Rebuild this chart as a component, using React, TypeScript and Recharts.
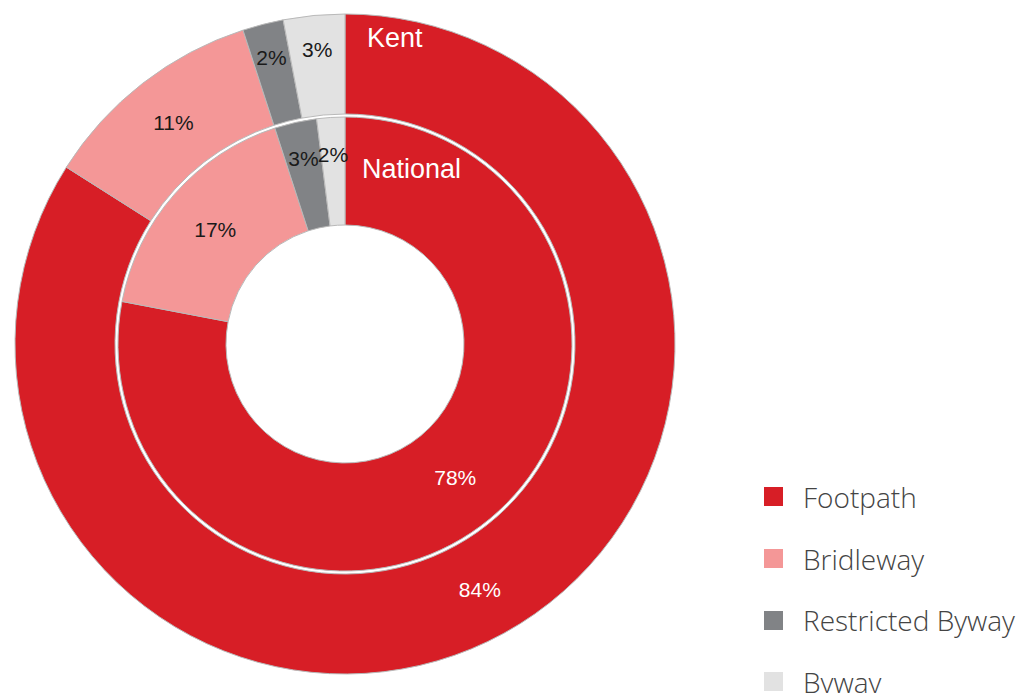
import { PieChart, Pie, Cell, Legend } from "recharts";

const CATEGORIES = ["Footpath", "Bridleway", "Restricted Byway", "Byway"];
const RINGS = ["Kent", "National"];
const KENT = [84, 11, 2, 3];
const NATIONAL = [78, 17, 3, 2];
const COLORS = ["#d71e26", "#f49797", "#818386", "#e2e2e2"];

const kentData = CATEGORIES.map((name, i) => ({ name, value: KENT[i] }));
const nationalData = CATEGORIES.map((name, i) => ({ name, value: NATIONAL[i] }));

const RADIAN = Math.PI / 180;
const CX = 345;
const CY = 344;
const ARIAL = "'Liberation Sans', Arial, sans-serif";

// подпись процентов внутри кольца; мелкие сегменты ближе к внешнему краю
const renderPct = (props: any) => {
  const { cx, cy, midAngle, innerRadius, outerRadius, value, index } = props;
  const frac = value < 5 ? 0.66 : 0.5;
  const r = innerRadius + (outerRadius - innerRadius) * frac;
  const x = cx + r * Math.cos(-midAngle * RADIAN);
  const y = cy + r * Math.sin(-midAngle * RADIAN);
  return (
    <text x={x} y={y} fill={index === 0 ? "#ffffff" : "#1a1a1a"} textAnchor="middle"
          dominantBaseline="central" fontFamily={ARIAL} fontSize={21}>
      {value}%
    </text>
  );
};

const LegendBox = () => (
  <div style={{ fontFamily: "'Open Sans', sans-serif", fontWeight: 300 }}>
    {CATEGORIES.map((c, i) => (
      <div key={c} style={{ display: "flex", alignItems: "center", height: 61.7 }}>
        <span style={{ display: "inline-block", width: 19, height: 19, background: COLORS[i], marginRight: 20 }} />
        <span style={{ fontSize: 28, color: "#444", lineHeight: 1, whiteSpace: "nowrap" }}>{c}</span>
      </div>
    ))}
  </div>
);

export default function App() {
  return (
    <div style={{ position: "absolute", left: 0, top: 0, width: 1021, height: 693, background: "#fff", overflow: "hidden" }}>
      <PieChart width={1021} height={693} margin={{ top: 0, right: 0, bottom: 0, left: 0 }}>
        <Pie data={kentData} dataKey="value" nameKey="name" cx={CX} cy={CY}
             innerRadius={230} outerRadius={330} startAngle={90} endAngle={-270}
             stroke="#b9b9b9" strokeWidth={1} label={renderPct} labelLine={false}
             isAnimationActive={false}>
          {kentData.map((d, i) => <Cell key={d.name} fill={COLORS[i]} />)}
        </Pie>
        <Pie data={nationalData} dataKey="value" nameKey="name" cx={CX} cy={CY}
             innerRadius={119} outerRadius={227} startAngle={90} endAngle={-270}
             stroke="#b9b9b9" strokeWidth={1} label={renderPct} labelLine={false}
             isAnimationActive={false}>
          {nationalData.map((d, i) => <Cell key={d.name} fill={COLORS[i]} />)}
        </Pie>
        <Legend content={<LegendBox />} layout="vertical"
                wrapperStyle={{ position: "absolute", left: 764, top: 466, width: 257 }} />
      </PieChart>
      {/* названия колец */}
      <div style={{ position: "absolute", left: CX + 22, top: CY - 330 + 8, color: "#fff", fontFamily: ARIAL, fontSize: 27, lineHeight: "32px" }}>
        {RINGS[0]}
      </div>
      <div style={{ position: "absolute", left: CX + 17, top: CY - 227 + 36, color: "#fff", fontFamily: ARIAL, fontSize: 27, lineHeight: "32px" }}>
        {RINGS[1]}
      </div>
    </div>
  );
}
